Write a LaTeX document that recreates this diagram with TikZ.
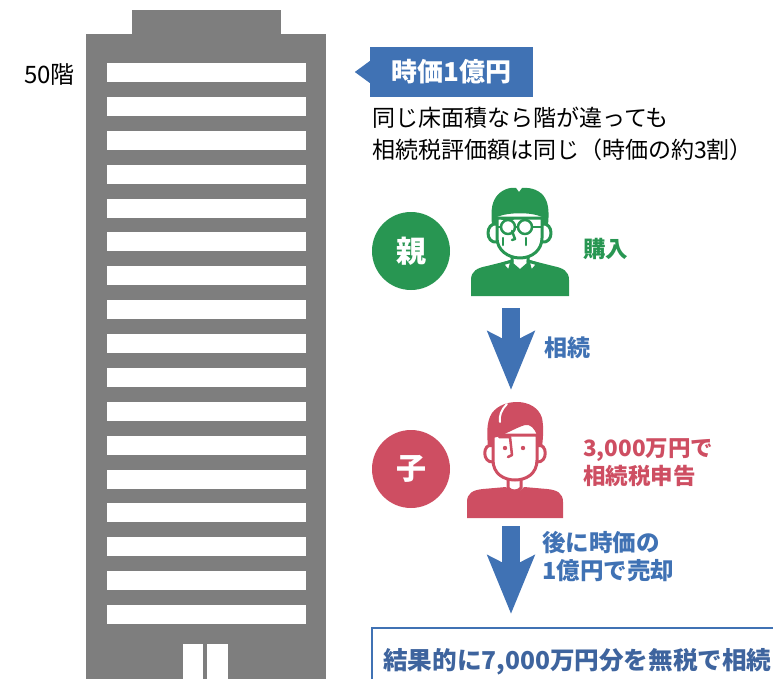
\documentclass[tikz,border=0pt]{standalone}
\usepackage{fontspec}
\setmainfont{Noto Sans CJK JP}
\usepackage{xcolor}
\usetikzlibrary{arrows.meta,positioning}

\definecolor{bldgray}{RGB}{126,126,126}
\definecolor{tagblue}{RGB}{64,114,180}
\definecolor{oyagreen}{RGB}{40,150,82}
\definecolor{korose}{RGB}{206,78,98}
\definecolor{resultblue}{RGB}{62,100,158}

\begin{document}
\begin{tikzpicture}[
    x=1pt, y=-1pt,
    lbl/.style={inner sep=0pt,anchor=west,align=left},
    note/.style={lbl,font=\fontsize{23}{32}\selectfont},
    tag/.style={fill=tagblue,text=white,inner sep=0pt,minimum width=163pt,
                minimum height=50pt,font=\fontsize{26}{26}\selectfont\bfseries},
    badge/.style={circle,inner sep=0pt,minimum size=78pt,text=white,
                  font=\fontsize{30}{30}\selectfont\bfseries},
    bigarrow/.style={draw=tagblue,line width=18pt,
                     -{Stealth[length=58pt,width=46pt,inset=11pt]}},
    icon/.style={line width=3pt,line join=round,line cap=round},
  ]
  \useasboundingbox (0,0) rectangle (773,679);

  % --- building (left) ---
  \fill[bldgray] (132,10) rectangle (281,34);
  \fill[bldgray] (86,34) rectangle (326,679);
  \foreach \i in {0,...,16} {
    \fill[white] (107,{63+33.875*\i}) rectangle (306,{82+33.875*\i});
  }
  \fill[white] (183,644) rectangle (203,679);
  \fill[white] (207,644) rectangle (228,679);
  \node[note,font=\fontsize{24}{32}\selectfont] (floor) at (24,75) {50階};

  % --- price tag and note ---
  \node[tag] (price) at (451.5,72) {時価1億円};
  \fill[tagblue] ([yshift=11pt]price.west) -- ([xshift=-15pt]price.west)
    -- ([yshift=-11pt]price.west) -- cycle;
  \node[note] (note1) at (372,118) {同じ床面積なら階が違っても};
  \node[note] (note2) at (372,150) {相続税評価額は同じ（時価の約3割）};

  % --- parent (glasses, face turned slightly left) ---
  \node[badge,fill=oyagreen] (oya) at (411,251) {親};
  \begin{scope}[shift={(520,240)},icon,draw=oyagreen]
    \fill[oyagreen] (-49,56) -- (-49,40) .. controls (-49,31) and (-43,28) .. (-33,26)
      -- (-9,20) -- (9,20) -- (33,26) .. controls (43,28) and (49,31) .. (49,40)
      -- (49,56) -- cycle;
    \filldraw[fill=white] (-8,12) -- (-8,24) -- (0,31) -- (8,24) -- (8,12);
    \filldraw[fill=white] (-8,21) -- (-18,24) -- (-11,32) -- cycle;
    \filldraw[fill=white] (8,21) -- (18,24) -- (11,32) -- cycle;
    \filldraw[fill=white] (-23,-16) .. controls (-35,-18) and (-35,4) .. (-23,2);
    \filldraw[fill=white] (22,-16) .. controls (34,-18) and (34,4) .. (22,2);
    \filldraw[fill=white] (-23,-22) -- (-23,-2) .. controls (-23,10) and (-12,18) .. (0,18)
      .. controls (12,18) and (22,10) .. (22,-2) -- (22,-22) -- cycle;
    \fill[oyagreen] (-28,-15) .. controls (-29,-26) and (-29,-36) .. (-24,-43)
      .. controls (-19,-50) and (-11,-53) .. (-4,-52) -- (-1,-48) -- (2,-52)
      .. controls (12,-53) and (21,-49) .. (25,-42) .. controls (29,-35) and (29,-26) .. (28,-15)
      -- (22,-15) -- (22,-23) .. controls (12,-28) and (-12,-28) .. (-23,-23)
      -- (-23,-15) -- cycle;
    \draw[line width=2.5pt] (-12,-13) circle[radius=7] (5,-13) circle[radius=7];
    \draw[line width=2.5pt] (-5,-13) -- (-2,-13) (-19,-13) -- (-23,-13) (12,-13) -- (22,-13);
    \draw[line width=2.5pt] (-18,-21) -- (-7,-21);
    \draw[line width=2.5pt] (-8,-9) -- (-5,-1) -- (-8,0);
    \draw[line width=2.5pt] (-17,-2) -- (-17,5) (6,-2) -- (6,5);
  \end{scope}
  \node[lbl,text=oyagreen,font=\fontsize{22.5}{22}\selectfont\bfseries] (buy) at (583,249) {購入};

  % --- child ---
  \node[badge,fill=korose] (ko) at (411,469) {子};
  \begin{scope}[shift={(515,450)},icon,draw=korose]
    \fill[korose] (-48,68) -- (-48,52) .. controls (-48,43) and (-42,40) .. (-32,39)
      -- (-9,37) .. controls (-5,43) and (5,43) .. (9,37) -- (32,39)
      .. controls (42,40) and (48,43) .. (48,52) -- (48,68) -- cycle;
    \filldraw[fill=white] (-7,26) -- (-7,38) .. controls (-4,42) and (3,42) .. (6,38) -- (6,26);
    \filldraw[fill=white] (-22,-5) .. controls (-33,-7) and (-33,13) .. (-22,12);
    \filldraw[fill=white] (22,-5) .. controls (33,-7) and (33,13) .. (22,12);
    \filldraw[fill=white] (-22,-15) -- (-22,10) .. controls (-22,24) and (-11,30) .. (0,30)
      .. controls (11,30) and (22,24) .. (22,10) -- (22,-15) -- cycle;
    \fill[korose] (-27,-3) .. controls (-28,-15) and (-29,-28) .. (-23,-37)
      .. controls (-17,-45) and (-7,-48) .. (2,-48) .. controls (14,-48) and (24,-42) .. (27,-32)
      .. controls (29,-22) and (28,-12) .. (27,-3) -- (22,-3) -- (22,-14)
      .. controls (20,-22) and (15,-26) .. (10,-25) .. controls (0,-22) and (-12,-14) .. (-22,-12)
      -- (-22,-3) -- cycle;
    \draw[white,line width=2pt] (-8,-46) .. controls (-14,-40) and (-16,-34) .. (-15,-28);
    \draw[line width=2.5pt] (-16,-13) -- (-5,-13) -- (-3,5) -- (-7,7);
    \fill[korose] (-10,-2) circle[radius=2.2] (8,-2) circle[radius=2.2];
  \end{scope}
  \node[lbl,text=korose,font=\fontsize{22.5}{28}\selectfont\bfseries] (report) at (583,463)
    {3,000万円で\\相続税申告};

  % --- flow arrows ---
  \coordinate (a1top) at (511,308);
  \coordinate (a1tip) at (511,390);
  \coordinate (a2top) at (511,526);
  \coordinate (a2tip) at (511,614);
  \draw[bigarrow] (a1top) -- (a1tip);
  \draw[bigarrow] (a2top) -- (a2tip);
  \node[lbl,text=tagblue,font=\fontsize{23}{23}\selectfont\bfseries] (inherit) at (544,348) {相続};
  \node[lbl,text=tagblue,font=\fontsize{23.5}{28}\selectfont\bfseries] (sell) at (542,557)
    {後に時価の\\1億円で売却};

  % --- result box (runs off the page edge) ---
  \draw[tagblue,line width=1.5pt] (790,628) -- (372,628) -- (372,700);
  \node[lbl,text=resultblue,font=\fontsize{24.6}{24}\selectfont\bfseries] (result) at (383,662)
    {結果的に7,000万円分を無税で相続};

\end{tikzpicture}
\end{document}
